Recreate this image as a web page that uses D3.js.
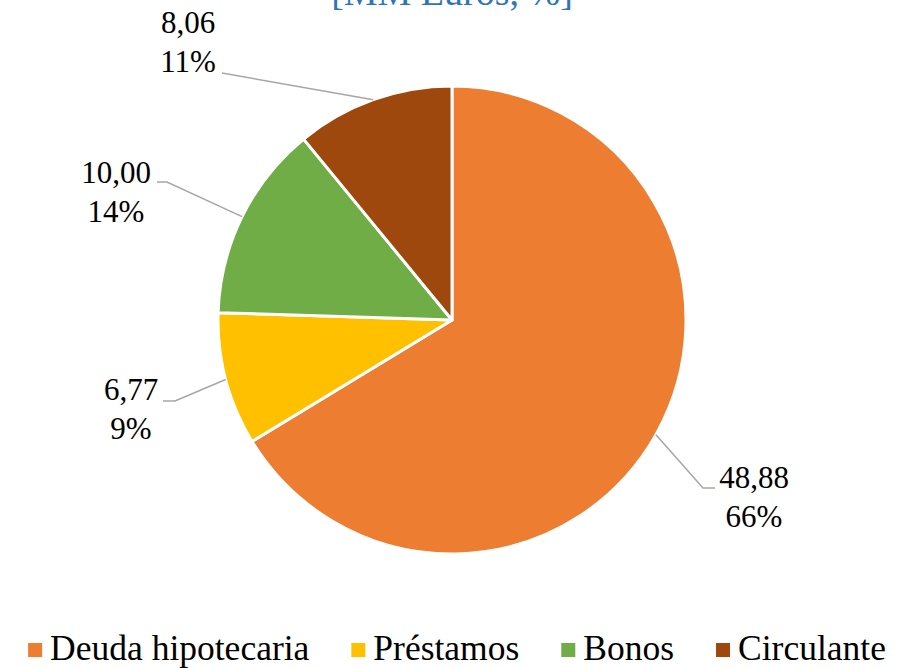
<!DOCTYPE html>
<html>
<head>
<meta charset="utf-8">
<script src="https://cdn.jsdelivr.net/npm/d3@7"></script>
<style>
  body { margin: 0; background: #fff; }
  svg { display: block; }
  .serif { font-family: "Liberation Serif", "DejaVu Serif", serif; }
</style>
</head>
<body>
<div id="chart"></div>
<script>
// data
const categories = ["Deuda hipotecaria", "Préstamos", "Bonos", "Circulante"];
const values = [48.88, 6.77, 10.00, 8.06];
const valueLabels = ["48,88", "6,77", "10,00", "8,06"];
const colors = ["#ED7D31", "#FFC000", "#70AD47", "#9E480E"];
const titleText = "[MM Euros, %]";

// label block placement relative to pie centre (text centre, leader elbow, leader end)
const labelLayout = [
  { tx: 302, ty: 168, ex: 251, ey: 168, lx: 263, ly: 168 },
  { tx: -321, ty: 80, ex: -277, ey: 81, lx: -289, ly: 81 },
  { tx: -336, ty: -137, ex: -285, ey: -138, lx: -295, ly: -138 },
  { tx: -264, ty: -287, ex: -230, ey: -247, lx: -230, ly: -247 }
];

const width = 916, height = 668;
const cx = 452, cy = 320, radius = 234;

const svg = d3.select("#chart")
  .append("svg")
  .attr("width", width)
  .attr("height", height);

// title (only the tail of it fits in the frame)
svg.append("text")
  .attr("class", "serif")
  .attr("x", cx)
  .attr("y", 5)
  .attr("text-anchor", "middle")
  .attr("font-size", 38)
  .attr("fill", "#2E75B6")
  .text(titleText);

const total = d3.sum(values);
const pie = d3.pie().sort(null).value(d => d);
const arcs = pie(values);
const arc = d3.arc().innerRadius(0).outerRadius(radius);

const g = svg.append("g").attr("transform", `translate(${cx},${cy})`);

g.selectAll("path.slice")
  .data(arcs)
  .join("path")
  .attr("class", "slice")
  .attr("d", arc)
  .attr("fill", (d, i) => colors[i])
  .attr("stroke", "#fff")
  .attr("stroke-width", 3)
  .attr("stroke-linejoin", "round");

// leader lines
g.selectAll("polyline.leader")
  .data(arcs)
  .join("polyline")
  .attr("class", "leader")
  .attr("points", (d, i) => {
    const a = (d.startAngle + d.endAngle) / 2;
    const p0 = [radius * Math.sin(a), -radius * Math.cos(a)];
    const L = labelLayout[i];
    return [p0, [L.ex, L.ey], [L.lx, L.ly]].map(p => p.join(",")).join(" ");
  })
  .attr("fill", "none")
  .attr("stroke", "#A6A6A6")
  .attr("stroke-width", 1.5);

// data labels: value + percent
const fmtPct = v => Math.round(v / total * 100) + "%";
const lbl = g.selectAll("text.lbl")
  .data(arcs)
  .join("text")
  .attr("class", "lbl serif")
  .attr("text-anchor", "middle")
  .attr("font-size", 31)
  .attr("fill", "#000");

lbl.append("tspan")
  .attr("x", (d, i) => labelLayout[i].tx)
  .attr("y", (d, i) => labelLayout[i].ty)
  .text((d, i) => valueLabels[i]);

lbl.append("tspan")
  .attr("x", (d, i) => labelLayout[i].tx)
  .attr("y", (d, i) => labelLayout[i].ty + 39)
  .text(d => fmtPct(d.data));

// legend
const legend = svg.append("g").attr("transform", "translate(0,650)");
const items = legend.selectAll("g.item")
  .data(categories)
  .join("g")
  .attr("class", "item");

items.append("rect")
  .attr("width", 14)
  .attr("height", 14)
  .attr("y", -7)
  .attr("fill", (d, i) => colors[i]);

items.append("text")
  .attr("class", "serif")
  .attr("x", 22)
  .attr("y", 10)
  .attr("font-size", 35.5)
  .attr("fill", "#000")
  .text(d => d);

const widths = [];
items.each(function () {
  widths.push(22 + d3.select(this).select("text").node().getComputedTextLength());
});
const gap = 42;
const totalW = d3.sum(widths) + gap * (widths.length - 1);
let xPos = 457 - totalW / 2;
items.attr("transform", (d, i) => {
  const t = `translate(${xPos},0)`;
  xPos += widths[i] + gap;
  return t;
});
</script>
</body>
</html>
